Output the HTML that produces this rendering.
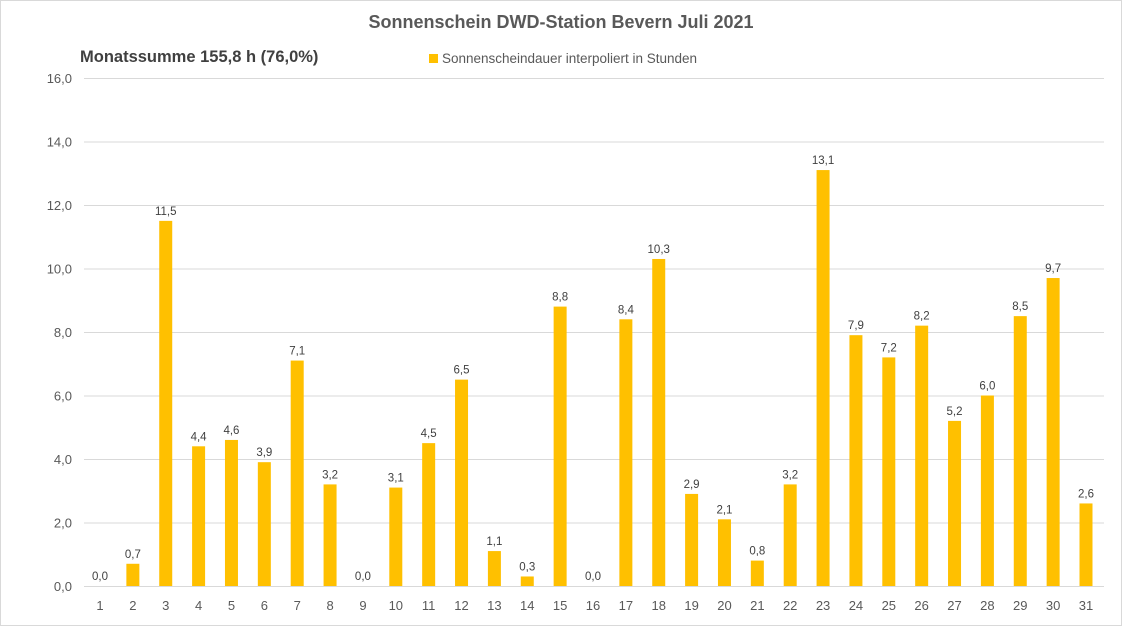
<!DOCTYPE html>
<html><head><meta charset="utf-8"><style>
body{margin:0;background:#fff;}
svg{display:block;font-family:"Liberation Sans",Arial,sans-serif;}
</style></head><body>
<svg width="1122" height="626" viewBox="0 0 1122 626" xmlns="http://www.w3.org/2000/svg">
<rect x="0.5" y="0.5" width="1121" height="625" fill="#fff" stroke="#d9d9d9"/>
<text x="561" y="28" text-anchor="middle" font-size="18" font-weight="bold" fill="#595959">Sonnenschein  DWD-Station  Bevern Juli 2021</text>
<text x="80" y="62" font-size="16.5" font-weight="bold" fill="#404040">Monatssumme 155,8 h (76,0%)</text>
<rect x="429" y="54" width="9" height="9" fill="#FFC000"/>
<text x="442" y="63" font-size="13.5" fill="#595959" textLength="255">Sonnenscheindauer interpoliert in Stunden</text>
<g id="grid" stroke="#d9d9d9" stroke-width="1"></g>
<g id="yl" font-size="13" fill="#595959" text-anchor="end"></g>
<g id="bars" fill="#FFC000"></g>
<g id="vl" font-size="11.5" fill="#404040" text-anchor="middle"></g>
<g id="xl" font-size="13" fill="#595959" text-anchor="middle"></g>
<script>
var ns="http://www.w3.org/2000/svg";
function el(p,t,a,txt){var e=document.createElementNS(ns,t);for(var k in a)e.setAttribute(k,a[k]);if(txt!=null)e.textContent=txt;document.getElementById(p).appendChild(e);}
var y0=586,s=31.75;
for(var v=0;v<=16;v+=2){var y=y0-v*s;el("grid","line",{x1:84,x2:1104,y1:y+0.5,y2:y+0.5});el("yl","text",{x:72,y:y+5},v.toFixed(1).replace(".",","));}
var d=[0,0.7,11.5,4.4,4.6,3.9,7.1,3.2,0,3.1,4.5,6.5,1.1,0.3,8.8,0,8.4,10.3,2.9,2.1,0.8,3.2,13.1,7.9,7.2,8.2,5.2,6.0,8.5,9.7,2.6];
var sp=(1086-100)/30;
d.forEach(function(v,i){var cx=100+i*sp;var h=v*s;el("bars","rect",{x:cx-6.5,y:y0-h,width:13,height:h});
el("vl","text",{x:cx,y:y0-h-6},v.toFixed(1).replace(".",","));el("xl","text",{x:cx,y:610},i+1);});
</script>
</svg>
</body></html>
